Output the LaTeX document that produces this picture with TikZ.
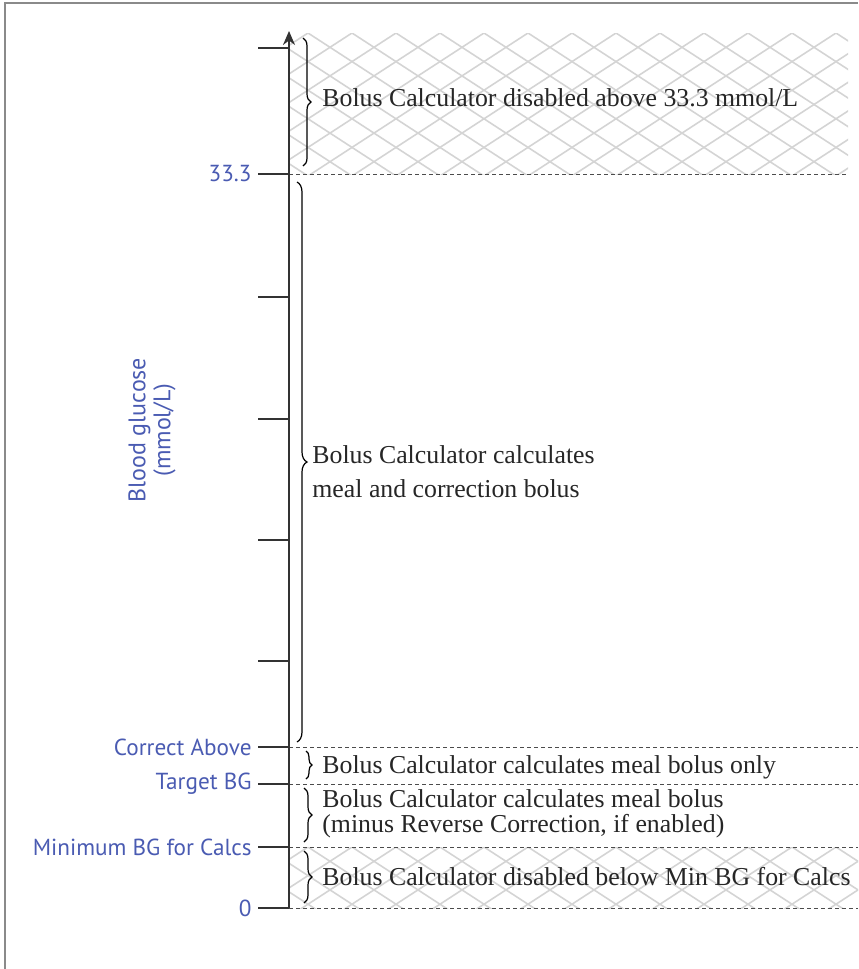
\documentclass[tikz,border=0pt]{standalone}
\usepackage{fontspec}
\setmainfont{Liberation Serif}
\newfontfamily\labelfont{PT Sans}
\usetikzlibrary{arrows.meta,decorations.pathreplacing}
\definecolor{axisblue}{HTML}{4A5BB2}
\definecolor{framegray}{HTML}{8A8A8A}
\definecolor{hatchgray}{HTML}{D4D4D4}
\definecolor{axisgray}{HTML}{333333}

\begin{document}
\begin{tikzpicture}[
 x=0.5pt,y=-0.5pt,
 lvl/.style={font=\labelfont\fontsize{11.6}{13}\selectfont,text=axisblue,anchor=east,inner sep=1pt},
 desc/.style={font=\fontsize{12.9}{12.5}\selectfont,anchor=west,align=left,inner sep=0pt,text=black!85},
 tickmark/.style={draw=axisgray,line width=0.8pt},
 sep/.style={draw=black!70,line width=0.5pt,dash pattern=on 2pt off 1.5pt},
 brc/.style={decorate,decoration={brace,amplitude=#1},line width=0.6pt},
 brc/.default=4pt,
 hatch/.style={draw=hatchgray,line width=0.8pt}
]
\useasboundingbox (0,0) rectangle (858,969);
\draw[framegray,line width=1.2pt] (5,969) -- (5,3) -- (858,3);

% hatched zones
\foreach \ya/\yb/\xb in {33/174/848,847/908/858}{
 \begin{scope}
  \clip (289,\ya) rectangle (\xb,\yb);
  \foreach \x in {0,44,...,1300}{
   \draw[hatch] (\x,\ya) -- ++(320,208);
   \draw[hatch] (\x,\ya) -- ++(-320,208);
  }
 \end{scope}
}

% levels on the axis
\coordinate (right) at (858,0);
\coordinate (lvTop) at (289,31);
\coordinate (lvMax) at (289,174);
\coordinate (lvCorr) at (289,747);
\coordinate (lvTarget) at (289,784);
\coordinate (lvMin) at (289,847);
\coordinate (lvZero) at (289,908);

% ticks
\foreach \y in {48,174,297,419,540,661,747,784,847,908}
 \draw[tickmark] (258,\y) -- (289,\y);

% separators
\draw[sep] (lvMax) -- (848,174);
\foreach \lv in {lvCorr,lvTarget,lvMin,lvZero}
 \draw[sep] (\lv) -- (\lv -| right);

% axis
\draw[axisgray,line width=1pt,-{Stealth[length=7pt,width=6pt]}] (lvZero) -- (lvTop);

% labels
\node[lvl] (max) at (254,174) {33.3};
\node[lvl] (corr) at (254,747) {Correct Above};
\node[lvl] (target) at (254,784) {Target BG};
\node[lvl] (min) at (254,847) {Minimum BG for Calcs};
\node[lvl] (zero) at (254,908) {0};
\node[lvl,anchor=center,rotate=90,align=center,font=\labelfont\fontsize{12}{12.5}\selectfont]
 (axislabel) at (152,430) {Blood glucose\\(mmol/L)};

% braces
\draw[brc] (303,38) -- (303,166);
\draw[brc=5pt] (297,182) -- (297,742);
\draw[brc=3pt] (306,751) -- (306,779);
\draw[brc] (304,788) -- (304,842);
\draw[brc] (304,851) -- (304,903);

% descriptions
\node[desc] (offhigh) at (322,98) {Bolus Calculator disabled above 33.3 mmol/L};
\node[desc,font=\fontsize{12.9}{17}\selectfont] (full) at (312,472) {Bolus Calculator calculates\\meal and correction bolus};
\node[desc] (meal) at (322,767) {Bolus Calculator calculates meal bolus only};
\node[desc] (reduced) at (322,814) {Bolus Calculator calculates meal bolus\\(minus Reverse Correction, if enabled)};
\node[desc] (offlow) at (322,877) {Bolus Calculator disabled below Min BG for Calcs};
\end{tikzpicture}
\end{document}
